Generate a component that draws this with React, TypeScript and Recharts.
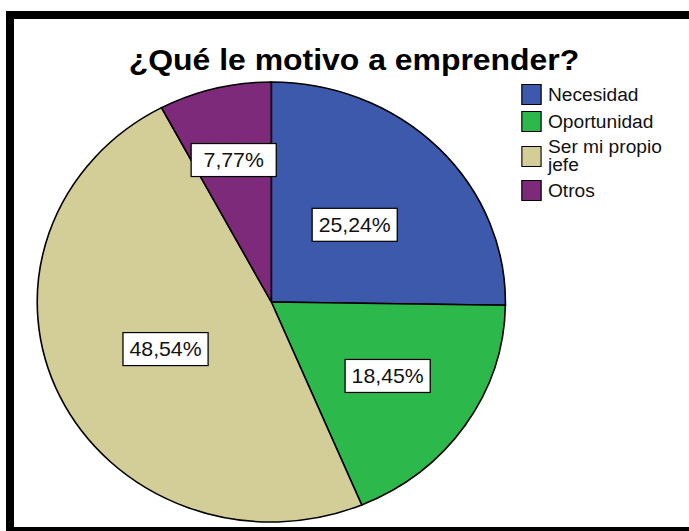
import React from "react";
import { PieChart, Pie, Cell, Legend } from "recharts";

// chart data
const CATEGORIES = ["Necesidad", "Oportunidad", "Ser mi propio jefe", "Otros"];
const PERCENTS = [25.24, 18.45, 48.54, 7.77];
const COLORS = ["#3D59AB", "#2DB84B", "#D3CE97", "#7D2A7B"];
const TITLE = "¿Qué le motivo a emprender?";

// the source image is stretched horizontally, so the whole chart is too
const STRETCH = 1.064;
const FONT = '"Liberation Sans", Arial, sans-serif';
const RAD = Math.PI / 180;

const data = CATEGORIES.map((name, i) => ({ name, value: PERCENTS[i] }));

const renderLabel = (props: any) => {
  const { cx, cy, midAngle, outerRadius, percent } = props;
  const frac = percent >= 0.25 ? 0.5 : percent >= 0.15 ? 0.6 : 0.665;
  const r = outerRadius * frac;
  const x = cx + r * Math.cos(-midAngle * RAD);
  const y = cy + r * Math.sin(-midAngle * RAD);
  const txt = (percent * 100).toFixed(2).replace(".", ",") + "%";
  const w = 80;
  const h = 33;
  return (
    <g>
      <rect x={x - w / 2} y={y - h / 2} width={w} height={h} fill="#fff" stroke="#000" strokeWidth={1.2} />
      <text x={x} y={y} textAnchor="middle" dominantBaseline="central" fontFamily={FONT} fontSize={20} fill="#111">
        {txt}
      </text>
    </g>
  );
};

const renderLegend = (props: any) => {
  const items = props.payload ?? [];
  return (
    <div style={{ fontFamily: FONT, fontSize: 18, lineHeight: "18px", color: "#111" }}>
      {items.map((it: any, i: number) => {
        const long = String(it.value).length > 12;
        return (
          <div key={i} style={{ display: "flex", alignItems: "center", padding: long ? "3px 0" : "3px 0" }}>
            <span
              style={{
                display: "inline-block",
                width: 17,
                height: 19,
                background: it.color,
                border: "1px solid #000",
                marginRight: 6,
                flexShrink: 0,
              }}
            />
            <span style={{ width: 118 }}>{it.value}</span>
          </div>
        );
      })}
    </div>
  );
};

export default function App() {
  return (
    <div style={{ position: "absolute", left: 0, top: 0, width: 689, height: 531, overflow: "hidden", background: "#fff" }}>
      <div
        style={{
          position: "absolute",
          left: 6,
          top: 11,
          width: 720,
          height: 524,
          border: "8px solid #000",
          boxSizing: "border-box",
        }}
      />
      <div
        style={{
          position: "absolute",
          left: 0,
          top: 0,
          width: 648,
          height: 531,
          transform: `scaleX(${STRETCH})`,
          transformOrigin: "0 0",
        }}
      >
        <div
          style={{
            position: "absolute",
            left: 121,
            top: 45,
            width: 400,
            textAlign: "center",
            fontFamily: FONT,
            fontWeight: "bold",
            fontSize: 30,
            lineHeight: "30px",
            color: "#000",
            whiteSpace: "nowrap",
          }}
        >
          {TITLE}
        </div>
        <PieChart width={648} height={531} margin={{ top: 0, right: 0, bottom: 0, left: 0 }}>
          <Pie
            data={data}
            dataKey="value"
            nameKey="name"
            cx={255}
            cy={302}
            outerRadius={220}
            startAngle={90}
            endAngle={-270}
            stroke="#000"
            strokeWidth={1.5}
            labelLine={false}
            label={renderLabel}
            isAnimationActive={false}
          >
            {data.map((_, i) => (
              <Cell key={i} fill={COLORS[i]} />
            ))}
          </Pie>
          <Legend
            layout="vertical"
            align="right"
            verticalAlign="top"
            itemSorter={null}
            content={renderLegend}
            wrapperStyle={{ left: 490, top: 81, width: 150 }}
          />
        </PieChart>
      </div>
    </div>
  );
}
